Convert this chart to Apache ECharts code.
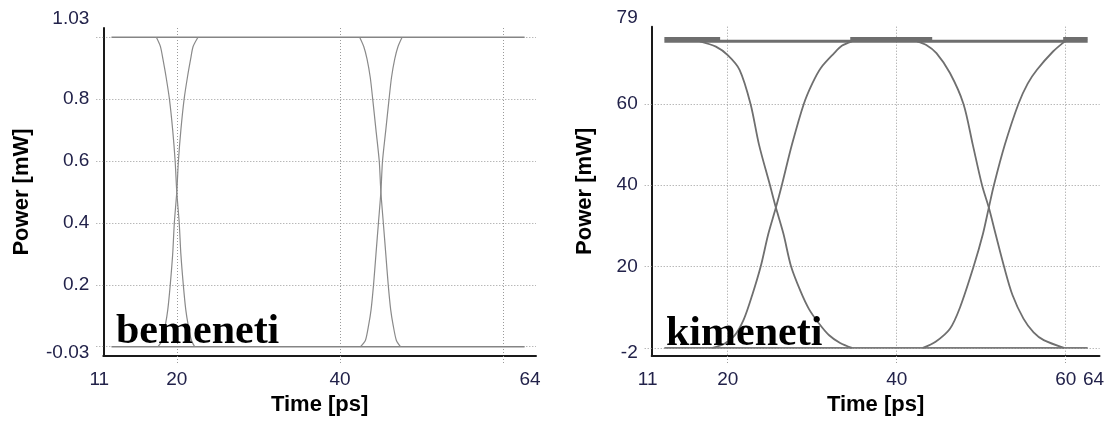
<!DOCTYPE html>
<html>
<head>
<meta charset="utf-8">
<script src="https://cdn.jsdelivr.net/npm/echarts@6/dist/echarts.min.js"></script>
<style>
  html, body { margin: 0; padding: 0; background: #ffffff; }
  #chart { width: 1110px; height: 421px; }
</style>
</head>
<body>
<div id="chart"></div>
<script>
// ---- Input eye diagram (bemeneti), power in mW vs time in ps ----
const inHigh = [[12.0, 1.0], [62.6, 1.0]];
const inLow = [[12.0, 0.0], [62.6, 0.0]];
const inFall1 = [[17.5, 1.0], [18.0, 0.97], [18.3, 0.93], [18.7, 0.87], [19.1, 0.8], [19.5, 0.7], [19.8, 0.6], [20.0, 0.5], [20.3, 0.4], [20.5, 0.3], [20.8, 0.2], [21.1, 0.12], [21.4, 0.07], [21.8, 0.02], [22.2, 0.0]];
const inRise1 = [[17.7, 0.0], [18.2, 0.02], [18.6, 0.07], [18.9, 0.12], [19.2, 0.2], [19.5, 0.3], [19.7, 0.4], [20.0, 0.5], [20.2, 0.6], [20.5, 0.7], [20.9, 0.8], [21.3, 0.87], [21.7, 0.93], [22.0, 0.97], [22.6, 1.0]];
const inFall2 = [[42.4, 1.0], [42.9, 0.97], [43.3, 0.93], [43.7, 0.87], [44.0, 0.8], [44.4, 0.7], [44.8, 0.6], [45.0, 0.5], [45.3, 0.4], [45.6, 0.3], [45.9, 0.2], [46.2, 0.12], [46.5, 0.07], [46.9, 0.02], [47.4, 0.0]];
const inRise2 = [[42.5, 0.0], [43.1, 0.02], [43.5, 0.07], [43.8, 0.12], [44.1, 0.2], [44.4, 0.3], [44.7, 0.4], [45.0, 0.5], [45.2, 0.6], [45.6, 0.7], [46.0, 0.8], [46.3, 0.87], [46.7, 0.93], [47.1, 0.97], [47.6, 1.0]];

// ---- Output eye diagram (kimeneti) ----
const outHigh = [[12.5, 75.4], [62.6, 75.4]];
const outHighUpperA = [[12.5, 76.1], [19.1, 76.1]];
const outHighUpperB = [[34.5, 76.1], [44.2, 76.1]];
const outHighUpperC = [[59.7, 76.1], [62.6, 76.1]];
const outLow = [[12.5, 0.0], [62.6, 0.0]];
const outFall1 = [[16.7, 75.4], [18.6, 74.1], [20.0, 72.0], [21.4, 68.4], [22.7, 60], [23.7, 50], [25.0, 40], [25.7, 34.5], [26.6, 28], [27.5, 20], [28.6, 14], [29.6, 9.6], [30.8, 6], [32.0, 3.1], [33.3, 1.2], [34.7, 0]];
const outRise1 = [[18.2, 0], [19.6, 1.0], [20.8, 3.0], [21.9, 7], [22.9, 13], [23.9, 20], [24.8, 28], [25.7, 34.5], [26.4, 40], [27.6, 50], [29.0, 60], [30.0, 65], [31.0, 68.8], [32.6, 72.5], [33.5, 74.3], [34.7, 75.4]];
const outFall2 = [[42.4, 75.4], [43.5, 74.5], [44.7, 72.5], [46.3, 67.6], [47.9, 60], [49.0, 50], [50.1, 40], [50.9, 34.5], [51.7, 28], [52.7, 20], [53.7, 13], [55.0, 7.2], [56.2, 3.8], [57.4, 1.9], [59.8, 0]];
const outRise2 = [[43.1, 0], [44.6, 1.5], [46.3, 4.7], [47.5, 10], [49.1, 20], [50.2, 28], [50.9, 34.5], [51.5, 40], [52.8, 50], [54.4, 60], [55.5, 65], [56.6, 68.4], [58.5, 72.9], [59.9, 75.4]];

// ---- Axis ranges, ticks and labels ----
const timeRange = [11, 64];
const timeGrid = [20, 40, 60];
const inTimeLabels = [11, 20, 40, 64];
const outTimeLabels = [11, 20, 40, 60, 64];
const inPowerRange = [-0.03, 1.03];
const inPowerGrid = [0, 0.2, 0.4, 0.6, 0.8, 1.0];
const inPowerLabels = [-0.03, 0.2, 0.4, 0.6, 0.8, 1.03];
const outPowerRange = [-2, 79];
const outPowerGrid = [0, 20, 40, 60];
const outPowerLabels = [-2, 20, 40, 60, 79];

const xTitle = 'Time [ps]';
const yTitle = 'Power [mW]';
const captions = ['bemeneti', 'kimeneti'];

const SANS = 'Liberation Sans, Arial, sans-serif';
const LABEL_COLOR = '#22224a';
const GRID_COLOR = '#9a9a9a';
const dotted = { color: GRID_COLOR, width: 1, type: [1, 2] };
const labelText = { color: LABEL_COLOR, fontFamily: SANS, fontSize: 19 };

function xAxisFor(gridIndex, labels) {
  return {
    type: 'value', gridIndex,
    min: timeRange[0], max: timeRange[1],
    axisLine: { show: true, onZero: false, lineStyle: { color: '#1a1a1a', width: 2 } },
    axisTick: { show: true, customValues: timeGrid, length: 7, lineStyle: dotted },
    splitLine: { show: true, lineStyle: dotted },
    axisLabel: {
      customValues: labels, margin: 14,
      color: LABEL_COLOR, fontFamily: SANS, fontSize: 19,
      formatter: v => {
        if (v === timeRange[1]) return '{end|' + v + '}';
        if (v === timeRange[0]) return '{start|' + v + '}';
        return String(v);
      },
      rich: {
        end: Object.assign({ padding: [0, 12, 0, 0] }, labelText),
        start: Object.assign({ padding: [0, 8, 0, 0] }, labelText)
      }
    },
    name: xTitle, nameLocation: 'middle', nameGap: 38,
    nameTextStyle: { color: '#000', fontFamily: SANS, fontWeight: 'bold', fontSize: 22 }
  };
}

function yAxisFor(gridIndex, range, grid, labels, gap) {
  return {
    type: 'value', gridIndex,
    min: range[0], max: range[1],
    axisLine: { show: true, onZero: false, lineStyle: { color: '#1a1a1a', width: 2 } },
    axisTick: { show: true, customValues: grid, length: 7, lineStyle: dotted },
    splitLine: { show: true, lineStyle: dotted },
    axisLabel: {
      customValues: labels, margin: 14,
      color: LABEL_COLOR, fontFamily: SANS, fontSize: 19,
      formatter: v => {
        if (v === range[1]) return '{top|' + v + '}';
        if (v === range[0]) return '{bot|' + v + '}';
        return String(v);
      },
      rich: {
        top: Object.assign({ padding: [0, 0, 18, 0] }, labelText),
        bot: Object.assign({ padding: [0, 0, 7, 0] }, labelText)
      }
    },
    name: yTitle, nameLocation: 'middle', nameGap: gap, nameRotate: 90,
    nameTextStyle: { color: '#000', fontFamily: SANS, fontWeight: 'bold', fontSize: 22 }
  };
}

function trace(data, idx, color, width, smooth) {
  return {
    type: 'line', data, xAxisIndex: idx, yAxisIndex: idx,
    showSymbol: false, symbol: 'none', silent: true,
    smooth: smooth || false,
    lineStyle: { color, width }
  };
}

const chart = echarts.init(document.getElementById('chart'), null, { renderer: 'canvas' });
chart.setOption({
  animation: false,
  backgroundColor: '#ffffff',
  grid: [
    { left: 103.3, top: 28, width: 432.7, height: 331 },
    { left: 651.7, top: 26.7, width: 447.8, height: 331 }
  ],
  xAxis: [xAxisFor(0, inTimeLabels), xAxisFor(1, outTimeLabels)],
  yAxis: [
    yAxisFor(0, inPowerRange, inPowerGrid, inPowerLabels, 70),
    yAxisFor(1, outPowerRange, outPowerGrid, outPowerLabels, 56)
  ],
  series: [
    trace(inHigh, 0, '#858585', 1.6),
    trace(inLow, 0, '#858585', 1.6),
    trace(inFall1, 0, '#8a8a8a', 1.2, 0.25),
    trace(inRise1, 0, '#8a8a8a', 1.2, 0.25),
    trace(inFall2, 0, '#8a8a8a', 1.2, 0.25),
    trace(inRise2, 0, '#8a8a8a', 1.2, 0.25),
    trace(outLow, 1, '#7a7a7a', 1.8),
    trace(outFall1, 1, '#6f6f6f', 1.8, 0.3),
    trace(outRise1, 1, '#6f6f6f', 1.8, 0.3),
    trace(outFall2, 1, '#6f6f6f', 1.8, 0.3),
    trace(outRise2, 1, '#6f6f6f', 1.8, 0.3),
    trace(outHigh, 1, '#6e6e6e', 3),
    trace(outHighUpperA, 1, '#6e6e6e', 3),
    trace(outHighUpperB, 1, '#6e6e6e', 3),
    trace(outHighUpperC, 1, '#6e6e6e', 3)
  ],
  graphic: [
    { type: 'text', left: 116, top: 311, z: 100,
      style: { text: captions[0], fill: '#000', font: 'bold 42px "Liberation Serif", "Times New Roman", serif' } },
    { type: 'text', left: 666, top: 313, z: 100,
      style: { text: captions[1], fill: '#000', font: 'bold 42px "Liberation Serif", "Times New Roman", serif' } }
  ]
});
</script>
</body>
</html>
